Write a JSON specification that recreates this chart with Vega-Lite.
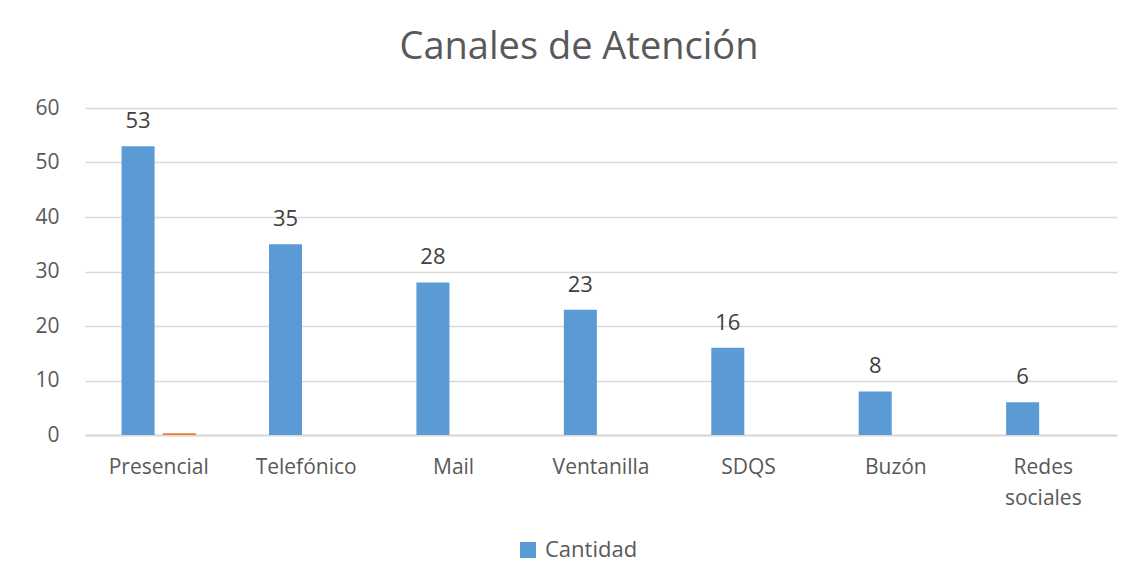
{
  "$schema": "https://vega.github.io/schema/vega-lite/v6.json",
  "width": 1032,
  "height": 327,
  "autosize": "none",
  "padding": {"left": 85, "top": 108, "right": 21, "bottom": 146},
  "background": "white",
  "config": {
    "font": "Open Sans",
    "view": {"stroke": null}
  },
  "title": {
    "text": "Canales de Atención",
    "fontSize": 38,
    "font": "Open Sans",
    "fontWeight": "normal",
    "color": "#595959",
    "anchor": "middle",
    "baseline": "alphabetic",
    "offset": 0,
    "dx": -22
  },
  "data": {
    "values": [
      {"canal": "Presencial", "serie": "Cantidad", "valor": 53},
      {"canal": "Telefónico", "serie": "Cantidad", "valor": 35},
      {"canal": "Mail", "serie": "Cantidad", "valor": 28},
      {"canal": "Ventanilla", "serie": "Cantidad", "valor": 23},
      {"canal": "SDQS", "serie": "Cantidad", "valor": 16},
      {"canal": "Buzón", "serie": "Cantidad", "valor": 8},
      {"canal": "Redes sociales", "serie": "Cantidad", "valor": 6},
      {"canal": "Presencial", "serie": "Serie2", "valor": 0.3}
    ]
  },
  "encoding": {
    "x": {
      "field": "canal",
      "type": "nominal",
      "sort": null,
      "scale": {"paddingInner": 0.496, "paddingOuter": 0.248},
      "axis": {
        "title": null,
        "labelAngle": 0,
        "labelFontSize": 21,
        "labelColor": "#595959",
        "labelPadding": 21,
        "labelLineHeight": 31,
        "labelExpr": "datum.label == 'Redes sociales' ? ['Redes', 'sociales'] : datum.label",
        "ticks": false,
        "domainColor": "#D9D9D9",
        "domainWidth": 2,
        "grid": false
      }
    },
    "xOffset": {
      "field": "serie",
      "type": "nominal",
      "scale": {"paddingInner": 0.2, "paddingOuter": 0}
    },
    "y": {
      "field": "valor",
      "type": "quantitative",
      "scale": {"domain": [0, 60], "nice": false},
      "axis": {
        "title": null,
        "values": [0, 10, 20, 30, 40, 50, 60],
        "labelFontSize": 21,
        "labelColor": "#595959",
        "labelPadding": 26,
        "ticks": false,
        "domain": false,
        "gridColor": "#D9D9D9",
        "gridWidth": 1.5
      }
    }
  },
  "layer": [
    {
      "mark": {"type": "bar"},
      "encoding": {
        "color": {
          "field": "serie",
          "type": "nominal",
          "scale": {"domain": ["Cantidad", "Serie2"], "range": ["#5B9BD5", "#ED7D31"]},
          "legend": {
            "values": ["Cantidad"],
            "title": null,
            "orient": "none",
            "legendX": 432,
            "legendY": 431,
            "direction": "horizontal",
            "symbolType": "square",
            "symbolSize": 256,
            "symbolStrokeWidth": 0,
            "labelFontSize": 22,
            "labelColor": "#595959",
            "labelOffset": 6
          }
        }
      }
    },
    {
      "transform": [{"filter": "datum.serie == 'Cantidad'"}],
      "mark": {"type": "text", "dy": -18, "fontSize": 22, "color": "#404040", "baseline": "alphabetic"},
      "encoding": {
        "text": {"field": "valor", "type": "quantitative"}
      }
    }
  ]
}
